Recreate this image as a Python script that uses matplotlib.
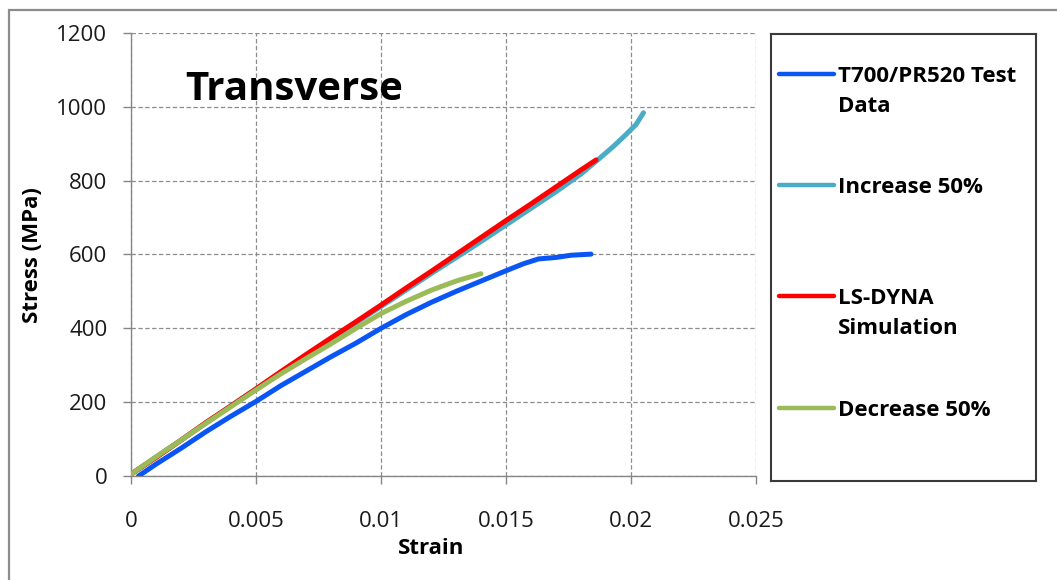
import matplotlib.pyplot as plt
from matplotlib.patches import Rectangle
from matplotlib.ticker import FuncFormatter

plt.rcParams['font.family'] = ['Open Sans', 'DejaVu Sans']

# stress-strain curves (strain, MPa)
test_strain = [0.0003, 0.001, 0.002, 0.003, 0.004, 0.005, 0.006, 0.007, 0.008, 0.009, 0.010,
               0.011, 0.012, 0.013, 0.014, 0.015, 0.0157, 0.0163, 0.0170, 0.0176, 0.0184]
test_stress = [0, 32, 75, 120, 162, 202, 245, 284, 323, 360, 400,
               437, 470, 500, 528, 556, 575, 588, 592, 598, 601]

inc_strain = [0, 0.002, 0.004, 0.006, 0.008, 0.010, 0.012, 0.014, 0.016, 0.017, 0.018,
              0.0187, 0.0193, 0.0198, 0.0202, 0.0205]
inc_stress = [5, 97, 190, 281, 371, 459, 548, 635, 725, 770, 818,
              858, 893, 925, 952, 984]

sim_strain = [0, 0.001, 0.002, 0.003, 0.004, 0.005, 0.006, 0.007, 0.008, 0.009, 0.010,
              0.011, 0.012, 0.013, 0.014, 0.015, 0.016, 0.017, 0.018, 0.0186]
sim_stress = [5, 50, 97, 145, 190, 236, 283, 329, 374, 418, 463,
              509, 554, 600, 646, 692, 737, 783, 829, 856]

dec_strain = [0, 0.001, 0.002, 0.003, 0.004, 0.005, 0.006, 0.007, 0.008, 0.009, 0.010,
              0.011, 0.012, 0.013, 0.014]
dec_stress = [5, 52, 97, 143, 188, 233, 277, 318, 358, 400, 440,
              473, 503, 528, 548]

labels = ['T700/PR520 Test\nData', 'Increase 50%', 'LS-DYNA\nSimulation', 'Decrease 50%']
colors = ['#0a56f5', '#4bacc6', '#ff0000', '#9bbb59']
x_ticks = [0, 0.005, 0.01, 0.015, 0.02, 0.025]
y_ticks = [0, 200, 400, 600, 800, 1000, 1200]

W, H = 1057, 580
fig = plt.figure(figsize=(W / 100, H / 100), dpi=100)

# outer chart frame (only left and top edges fall inside the image)
fig.add_artist(Rectangle((9 / W, -0.2), 1.5, 1.2 - 10 / H, transform=fig.transFigure,
                         fill=False, edgecolor='#8c8c8c', lw=1.6))

ax = fig.add_axes([131 / W, 1 - 476 / H, 625 / W, 443 / H])
series = [(test_strain, test_stress), (inc_strain, inc_stress),
          (sim_strain, sim_stress), (dec_strain, dec_stress)]
for (xs, ys), c in zip(series, colors):
    ax.plot(xs, ys, color=c, lw=3.6, solid_capstyle='round', solid_joinstyle='round', zorder=3)

ax.set_xlim(0, 0.025)
ax.set_ylim(0, 1200)
ax.set_xticks(x_ticks)
ax.set_yticks(y_ticks)
ax.xaxis.set_major_formatter(FuncFormatter(lambda v, p: '%g' % round(v, 4)))
ax.grid(True, color='#8c8c8c', lw=0.9, linestyle=(0, (3.5, 2)))
for s in ['top', 'right']:
    ax.spines[s].set_visible(False)
for s in ['left', 'bottom']:
    ax.spines[s].set_color('#868686')
    ax.spines[s].set_linewidth(1.0)
ax.tick_params(axis='both', direction='out', length=6, width=1, color='#868686',
               labelsize=16, labelcolor='#1a1a1a')
ax.tick_params(axis='y', pad=11)
ax.tick_params(axis='x', pad=19)

fig.text(33 / W, 1 - 255 / H, 'Stress (MPa)', rotation=90, ha='center', va='center',
         fontsize=16, fontweight='bold')
fig.text(431 / W, 1 - 549 / H, 'Strain', ha='center', va='center',
         fontsize=16, fontweight='bold')
fig.text(185 / W, 1 - 100 / H, 'Transverse', ha='left', va='baseline',
         fontsize=29, fontweight='bold')

# legend box on the right, laid out in pixel units
lg = fig.add_axes([771 / W, 1 - 481 / H, 265 / W, 447 / H])
lg.set_xlim(771, 1036)
lg.set_ylim(481, 34)
lg.set_xticks([])
lg.set_yticks([])
for s in lg.spines.values():
    s.set_color('#3a3a3a')
    s.set_linewidth(1.5)
entry_y = [74, 185, 296, 408]
for y, lab, c in zip(entry_y, labels, colors):
    lg.plot([779, 834], [y, y], color=c, lw=3.2, solid_capstyle='round')
    # first text row sits level with the sample line, later rows below it
    for k, row in enumerate(lab.split('\n')):
        lg.text(838, y + 8 + 30 * k, row, ha='left', va='baseline', fontsize=16,
                fontweight='bold')

fig.savefig('out.png', dpi=100)
